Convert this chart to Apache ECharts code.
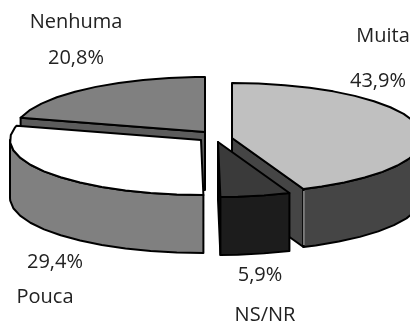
<!DOCTYPE html>
<html>
<head>
<meta charset="utf-8">
<style>html,body{margin:0;padding:0;background:#fff;overflow:hidden}#c{width:410px;height:324px}</style>
<script src="https://cdn.jsdelivr.net/npm/echarts@6/dist/echarts.min.js"></script>
</head>
<body>
<div id="c"></div>
<script>
// Survey answers, clockwise from twelve o'clock
const categories = ['Muita', 'NS/NR', 'Pouca', 'Nenhuma'];
const shares = [43.9, 5.9, 29.4, 20.8];

// Pie shape
const RX = 191, RY = 55, DEPTH = 58, ARC_STEP = 8;
const centres = { 'Muita': [232, 138], 'NS/NR': [218, 142], 'Pouca': [201, 140], 'Nenhuma': [205, 132] };
const topColours = { 'Muita': '#c0c0c0', 'NS/NR': '#3a3a3a', 'Pouca': '#ffffff', 'Nenhuma': '#808080' };
const sideColours = { 'Muita': '#454545', 'NS/NR': '#1c1c1c', 'Pouca': '#808080', 'Nenhuma': '#5c5c5c' };
const paintOrder = ['Nenhuma', 'Pouca', 'Muita', 'NS/NR'];

// Label anchors: name centre, value centre
const labelSpots = {
  'Nenhuma': [[76, 22], [76, 58]],
  'Muita': [[383, 36], [378, 81]],
  'Pouca': [[45, 297], [55, 262]],
  'NS/NR': [[265, 315], [260, 275]]
};

const angleOf = pct => echarts.number.linearMap(pct, [0, 100], [0, 360]);
const bounds = {};
shares.reduce((sum, s, i) => {
  bounds[categories[i]] = [angleOf(sum), angleOf(sum + s)];
  return sum + s;
}, 0);

function rim(c, deg, drop) {
  const r = deg * Math.PI / 180;
  return [c[0] + RX * Math.sin(r), c[1] - RY * Math.cos(r) + (drop || 0)];
}
function arc(c, a0, a1, drop) {
  const pts = [];
  for (let a = a0; a < a1; a += ARC_STEP) pts.push(rim(c, a, drop));
  pts.push(rim(c, a1, drop));
  return pts;
}
function face(points, fill, z) {
  return {
    type: 'polygon', z2: z,
    shape: { points },
    style: { fill, stroke: '#000', lineWidth: 2, lineJoin: 'round' }
  };
}
function radialWall(c, deg, fill, z) {
  const p = rim(c, deg);
  return face([c, p, [p[0], p[1] + DEPTH], [c[0], c[1] + DEPTH]], fill, z);
}

function renderSlice(params, api) {
  const name = paintOrder[params.dataIndex];
  const c = centres[name], [a0, a1] = bounds[name];
  const base = params.dataIndex * 10;
  const kids = [];
  if (a0 > 180) kids.push(radialWall(c, a0, sideColours[name], base));
  if (a1 < 180) kids.push(radialWall(c, a1, sideColours[name], base));
  // Outer skirt only shows on the near half of the rim
  const f0 = Math.max(a0, 90), f1 = Math.min(a1, 270);
  if (f1 > f0) {
    const upper = arc(c, f0, f1, 0), lower = arc(c, f0, f1, DEPTH).reverse();
    kids.push(face(upper.concat(lower), sideColours[name], base + 1));
    if (a1 < 180 && name === 'Muita') {
      const p = rim(c, a1);
      kids.push({
        type: 'line', z2: base + 2,
        shape: { x1: p[0] + 0.5, y1: p[1] + 2, x2: p[0] + 0.5, y2: p[1] + DEPTH - 2 },
        style: { stroke: '#d8d8d8', lineWidth: 1 }
      });
    }
  }
  const top = a1 - a0 < 360 ? [c].concat(arc(c, a0, a1, 0)) : arc(c, a0, a1, 0);
  kids.push(face(top, topColours[name], base + 3));
  return { type: 'group', children: kids };
}

const labelFont = { fontFamily: 'Open Sans', fontSize: 20, fill: '#222', align: 'center', verticalAlign: 'middle' };
const labelGraphics = [];
categories.forEach((name, i) => {
  const [nameAt, valueAt] = labelSpots[name];
  labelGraphics.push({ type: 'text', x: nameAt[0], y: nameAt[1], style: { ...labelFont, text: name } });
  labelGraphics.push({ type: 'text', x: valueAt[0], y: valueAt[1], style: { ...labelFont, text: shares[i].toFixed(1).replace('.', ',') + '%' } });
});

const chart = echarts.init(document.getElementById('c'), null, { renderer: 'canvas' });
chart.setOption({
  animation: false,
  backgroundColor: '#fff',
  graphic: labelGraphics,
  series: [{
    type: 'custom',
    coordinateSystem: 'none',
    clip: false,
    silent: true,
    renderItem: renderSlice,
    data: paintOrder.map(n => shares[categories.indexOf(n)])
  }]
});
</script>
</body>
</html>
